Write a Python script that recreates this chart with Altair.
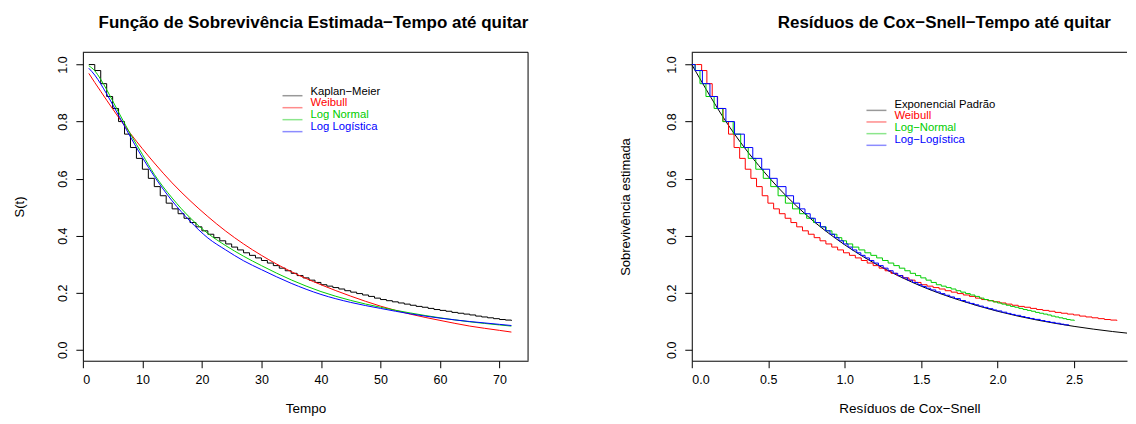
import altair as alt
import pandas as pd

# ---------------- data ----------------
km_time = list(range(1, 73))
km_surv = [1.0, 0.979, 0.933, 0.888, 0.846, 0.800, 0.756, 0.709, 0.671, 0.633,
           0.601, 0.572, 0.540, 0.514, 0.494, 0.477, 0.461, 0.446, 0.431, 0.417,
           0.405, 0.393, 0.382, 0.371, 0.360, 0.350, 0.340, 0.331, 0.322, 0.313,
           0.304, 0.295, 0.286, 0.277, 0.268, 0.260, 0.252, 0.244, 0.236, 0.228,
           0.223, 0.218, 0.213, 0.207, 0.202, 0.197, 0.192, 0.187, 0.181, 0.176,
           0.172, 0.168, 0.164, 0.160, 0.156, 0.152, 0.149, 0.145, 0.141, 0.138,
           0.135, 0.131, 0.128, 0.125, 0.122, 0.118, 0.115, 0.112, 0.109, 0.106, 0.104, 0.1015]

fit_time = [1, 2, 3, 4, 6, 8, 10, 12, 15, 18, 21, 24, 27, 30, 35, 40, 45, 50, 55, 60, 65, 70, 72]
weibull_surv = [0.969, 0.937, 0.906, 0.875, 0.815, 0.758, 0.705, 0.655, 0.585, 0.523, 0.467, 0.416,
                0.371, 0.331, 0.274, 0.228, 0.188, 0.153, 0.125, 0.103, 0.083, 0.068, 0.062]
lognormal_surv = [0.996, 0.978, 0.948, 0.912, 0.833, 0.756, 0.685, 0.615, 0.532, 0.463, 0.408, 0.365,
                  0.328, 0.295, 0.245, 0.204, 0.173, 0.149, 0.129, 0.112, 0.098, 0.087, 0.083]
loglogistic_surv = [0.987, 0.963, 0.932, 0.897, 0.822, 0.746, 0.674, 0.608, 0.522, 0.451, 0.392, 0.350,
                    0.312, 0.281, 0.233, 0.194, 0.166, 0.145, 0.126, 0.111, 0.099, 0.089, 0.085]

# Cox-Snell residuals (step positions) for each model
res_weibull = [0.0312, 0.0645, 0.0988, 0.1336, 0.1689, 0.2045, 0.2404, 0.2766, 0.3131, 0.3497,
               0.3865, 0.4235, 0.4606, 0.4979, 0.5353, 0.5728, 0.6105, 0.6482, 0.6861, 0.7240,
               0.7621, 0.8003, 0.8385, 0.8769, 0.9153, 0.9537, 0.9922, 1.0309, 1.0696, 1.1084,
               1.1472, 1.1860, 1.2251, 1.2640, 1.3030, 1.3422, 1.3814, 1.4206, 1.4600, 1.4993,
               1.5387, 1.5781, 1.6175, 1.6570, 1.6966, 1.7362, 1.7758, 1.8156, 1.8553, 1.8951,
               1.9348, 1.9747, 2.0146, 2.0547, 2.0945, 2.1347, 2.1748, 2.2147, 2.2547, 2.2949,
               2.3352, 2.3752, 2.4155, 2.4559, 2.4963, 2.5366, 2.5770, 2.6172, 2.6578, 2.6982, 2.7388, 2.7793]
res_lognormal = [0.0038, 0.0226, 0.0536, 0.0926, 0.1461, 0.2027, 0.2708, 0.3198, 0.3692, 0.4186,
                 0.4675, 0.5164, 0.5644, 0.6120, 0.6588, 0.7051, 0.7509, 0.7958, 0.8401, 0.8787,
                 0.9167, 0.9491, 0.9810, 1.0120, 1.0524, 1.0924, 1.1320, 1.1708, 1.2090, 1.2469,
                 1.2841, 1.3209, 1.3571, 1.3931, 1.4284, 1.4632, 1.4975, 1.5316, 1.5654, 1.5990,
                 1.6317, 1.6638, 1.6961, 1.7276, 1.7591, 1.7904, 1.8208, 1.8515, 1.8819, 1.9112,
                 1.9407, 1.9697, 1.9988, 2.0272, 2.0557, 2.0842, 2.1120, 2.1387, 2.1663, 2.1937,
                 2.2200, 2.2471, 2.2730, 2.2996, 2.3258, 2.3507, 2.3762, 2.4013, 2.4270, 2.4510, 2.4757, 2.5010]
res_loglogistic = [0.0, 0.0212, 0.0694, 0.1188, 0.1672, 0.2231, 0.2797, 0.3439, 0.3990, 0.4573,
                   0.5092, 0.5586, 0.6162, 0.6655, 0.7052, 0.7402, 0.7744, 0.8074, 0.8416, 0.8747,
                   0.9039, 0.9339, 0.9623, 0.9916, 1.0217, 1.0498, 1.0788, 1.1056, 1.1332, 1.1616,
                   1.1907, 1.2208, 1.2518, 1.2837, 1.3168, 1.3471, 1.3783, 1.4106, 1.4439, 1.4784,
                   1.5055, 1.5334, 1.5621, 1.5955, 1.6255, 1.6555, 1.6869, 1.7182, 1.7562, 1.7898,
                   1.8177, 1.8471, 1.8767, 1.9065, 1.9373, 1.9690, 1.9944, 2.0272, 2.0604, 2.0882,
                   2.1152, 2.1515, 2.1803, 2.2100, 2.2396, 2.2789, 2.3106, 2.3434, 2.3762, 2.4102, 2.4351, 2.4651]
surv_loglogistic_res = km_surv[:40] + [
    0.2219, 0.2158, 0.2097, 0.2028, 0.1968, 0.1910, 0.1851, 0.1794, 0.1727, 0.1670,
    0.1624, 0.1577, 0.1531, 0.1486, 0.1441, 0.1396, 0.1361, 0.1317, 0.1274, 0.1239,
    0.1206, 0.1163, 0.1130, 0.1097, 0.1065, 0.1024, 0.0992, 0.0960, 0.0929, 0.0898, 0.0876, 0.0850]

exp_x = [0.0, 0.25, 0.5, 0.75, 1.0, 1.25, 1.5, 1.75, 2.0, 2.25, 2.5, 2.75, 3.0]
exp_y = [1.0, 0.779, 0.607, 0.472, 0.368, 0.287, 0.223, 0.174, 0.135, 0.105, 0.082, 0.064, 0.050]

left_labels = ["Kaplan\u2212Meier", "Weibull", "Log Normal", "Log Log\u00edstica"]
right_labels = ["Exponencial Padr\u00e3o", "Weibull", "Log\u2212Normal", "Log\u2212Log\u00edstica"]
text_colors = ["black", "#FF0000", "#00CD00", "#0000FF"]
line_colors = ["#999999", "#FF8C8C", "#8CE68C", "#8C8CFF"]

# ---------------- layout ----------------
FONT = "Liberation Sans"
W1, W2, H = 446, 436, 309
YDOM = [-0.0385, 1.043]


def y_axis(title, title_x):
    return alt.Axis(values=[0, 0.2, 0.4, 0.6, 0.8, 1.0], format=".1f", title=title,
                    grid=False, tickSize=7, labelPadding=6, labelAngle=270,
                    labelAlign="center", labelBaseline="bottom",
                    domainColor="black", tickColor="black", labelColor="black",
                    labelFont=FONT, labelFontSize=12.5, titleFont=FONT, titleFontSize=13,
                    titleFontWeight="normal", titleColor="black", titleAngle=270,
                    titleX=title_x, titleY=H / 2, titleAlign="center", titleBaseline="middle")


def x_axis(values, fmt, title, width):
    return alt.Axis(values=values, format=fmt, title=title, grid=False, tickSize=7,
                    labelPadding=6, domainColor="black", tickColor="black",
                    labelColor="black", labelFont=FONT, labelFontSize=12.5,
                    titleFont=FONT, titleFontSize=13.5, titleFontWeight="normal",
                    titleColor="black", titleX=width / 2, titleY=48,
                    titleAlign="center", titleBaseline="middle")


one = pd.DataFrame({"a": [0]})


def legend_layers(labels, lx0, lx1, tx, tys, lys):
    layers = []
    for lab, tc, lc, ty, ly in zip(labels, text_colors, line_colors, tys, lys):
        layers.append(alt.Chart(one).mark_rule(color=lc, strokeWidth=1.5).encode(
            x=alt.value(lx0), x2=alt.value(lx1), y=alt.value(ly)))
        layers.append(alt.Chart(one).mark_text(text=lab, color=tc, align="left",
                                               baseline="middle", font=FONT, fontSize=11.3).encode(
            x=alt.value(tx), y=alt.value(ty)))
    return layers


# ---------------- left panel ----------------
xs1 = alt.Scale(domain=[0, 74.8], nice=False, zero=False)
ys = alt.Scale(domain=YDOM, nice=False, zero=False)

km_df = pd.DataFrame({"t": km_time, "s": km_surv})
xa1 = x_axis([0, 10, 20, 30, 40, 50, 60, 70], "d", "Tempo", W1)
ya1 = y_axis("S(t)", -63)

left_layers = [
    alt.Chart(km_df).mark_line(interpolate="step-after", color="black", strokeWidth=1, clip=True).encode(
        x=alt.X("t:Q", scale=xs1, axis=xa1), y=alt.Y("s:Q", scale=ys, axis=ya1))
]
for vals, col in [(weibull_surv, "#FF0000"), (lognormal_surv, "#00CD00"), (loglogistic_surv, "#0000FF")]:
    df = pd.DataFrame({"t": fit_time, "s": vals})
    left_layers.append(alt.Chart(df).mark_line(interpolate="monotone", color=col, strokeWidth=1, clip=True).encode(
        x=alt.X("t:Q", scale=xs1), y=alt.Y("s:Q", scale=ys)))
left_layers.append(alt.Chart(one).mark_rule(color="black", strokeWidth=1).encode(
    x=alt.value(0), x2=alt.value(W1), y=alt.value(0)))
left_layers.append(alt.Chart(one).mark_rule(color="black", strokeWidth=1).encode(
    x=alt.value(W1), y=alt.value(0), y2=alt.value(H)))
left_layers += legend_layers(left_labels, 200, 220, 228, [39.5, 51.3, 63.3, 75.3], [43.5, 55.5, 67.5, 79.5])

left = alt.layer(*left_layers).properties(
    width=W1, height=H,
    title=alt.TitleParams("Fun\u00e7\u00e3o de Sobreviv\u00eancia Estimada\u2212Tempo at\u00e9 quitar",
                          font=FONT, fontSize=17, fontWeight="bold", color="black",
                          anchor="middle", frame="group", offset=12, baseline="middle", dx=8))

# ---------------- right panel ----------------
xs2 = alt.Scale(domain=[0, 2.846], nice=False, zero=False)
xa2 = x_axis([0, 0.5, 1.0, 1.5, 2.0, 2.5], ".1f", "Res\u00edduos de Cox\u2212Snell", W2)
ya2 = y_axis("Sobreviv\u00eancia estimada", -66)

exp_df = pd.DataFrame({"r": exp_x, "s": exp_y})
right_layers = [
    alt.Chart(exp_df).mark_line(interpolate="monotone", color="black", strokeWidth=1, clip=True).encode(
        x=alt.X("r:Q", scale=xs2, axis=xa2), y=alt.Y("s:Q", scale=ys, axis=ya2))
]
for rx, sy, col in [(res_weibull, km_surv, "#FF0000"), (res_lognormal, km_surv, "#00CD00"),
                    (res_loglogistic, surv_loglogistic_res, "#0000FF")]:
    df = pd.DataFrame({"r": [0.0] + rx, "s": [1.0] + sy})
    right_layers.append(alt.Chart(df).mark_line(interpolate="step-after", color=col, strokeWidth=1, clip=True).encode(
        x=alt.X("r:Q", scale=xs2), y=alt.Y("s:Q", scale=ys)))
right_layers.append(alt.Chart(one).mark_rule(color="black", strokeWidth=1).encode(
    x=alt.value(0), x2=alt.value(W2), y=alt.value(0)))
right_layers += legend_layers(right_labels, 175, 195, 203, [52.5, 64.2, 75.8, 88.2], [58.2, 69.8, 81.5, 93.2])

right = alt.layer(*right_layers).properties(
    width=W2, height=H,
    title=alt.TitleParams("Res\u00edduos de Cox\u2212Snell\u2212Tempo at\u00e9 quitar",
                          font=FONT, fontSize=17, fontWeight="bold", color="black",
                          anchor="middle", frame="group", offset=12, baseline="middle", dx=35))

chart = alt.hconcat(left, right, spacing=164, bounds="flush").properties(
    padding={"left": 6, "top": 5, "right": 0, "bottom": 0},
    background="white"
).configure_view(stroke=None)

chart.save("out.html", embed_options={"renderer": "svg", "actions": False})
